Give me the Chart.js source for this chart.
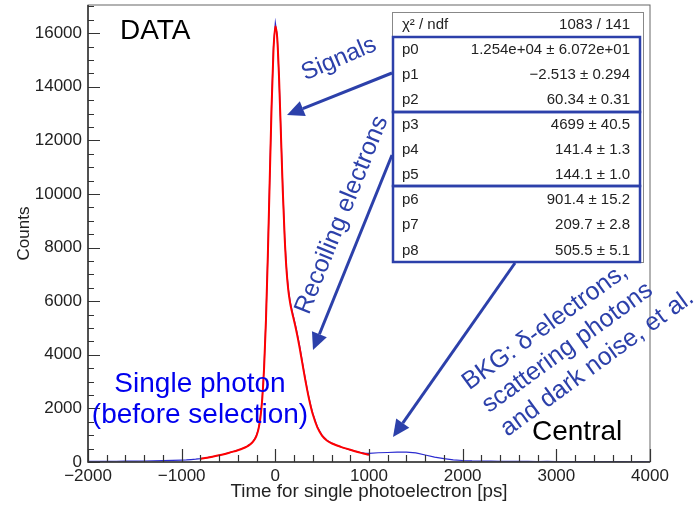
<!DOCTYPE html>
<html>
<head>
<meta charset="utf-8">
<script src="https://cdn.jsdelivr.net/npm/chart.js@4/dist/chart.umd.min.js"></script>
<style>
  html, body { margin: 0; padding: 0; background: #fff; }
  #wrap { width: 697px; height: 505px; position: relative; }
</style>
</head>
<body>
<div id="wrap"><canvas id="timeChart"></canvas></div>
<script>
// histogram: time bins [ps] and counts
const histTime = [
  -2000, -1900, -1800, -1700, -1600, -1500, -1400, -1300, -1200, -1100, -1000,
  -950, -900, -850, -800, -750, -700, -650, -600, -550, -500, -450, -400, -350, -300,
  -280, -260, -240, -220, -200, -180, -160, -140, -120, -100, -80, -60, -40, -20,
  0, 20, 40, 60, 80, 100, 120, 140, 160, 180, 200, 220, 240, 260, 280, 300,
  320, 340, 360, 380, 400,
  450, 500, 550, 600, 650, 700, 750, 800, 850, 900, 950, 1000,
  1100, 1200, 1300, 1400, 1500, 1600, 1700, 1800, 1900, 2000,
  2100, 2200, 2300, 2400, 2500, 2600, 2700, 2800, 2900, 3000,
  3100, 3200, 3300, 3400, 3500, 3600, 3700, 3800, 3900, 4000
];
const histCounts = [
  20, 25, 22, 28, 30, 34, 38, 45, 50, 58, 70,
  78, 90, 105, 125, 150, 182, 215, 252, 290, 340, 392, 445, 505, 590,
  640, 690, 760, 860, 1010, 1240, 1660, 2380, 3560, 5340, 7760, 10580, 13350, 15480,
  16380, 15900, 14300, 12250, 10150, 8380, 7180, 6420, 5960, 5640, 5330, 5020, 4680, 4320, 3910, 3490,
  3100, 2720, 2380, 2080, 1810,
  1300, 990, 815, 705, 630, 560, 505, 455, 405, 360, 330, 320,
  345, 355, 365, 370, 340, 260, 180, 125, 80, 55,
  40, 35, 30, 25, 28, 20, 22, 18, 20, 15,
  18, 14, 16, 12, 15, 12, 14, 10, 12, 10
];

// fit curve (red), -800 .. 1000 ps
const fitTime = [
  -800, -750, -700, -650, -600, -550, -500, -450, -400, -350, -300,
  -280, -260, -240, -220, -200, -180, -160, -140, -120, -100, -80, -60, -40, -20,
  0, 20, 40, 60, 80, 100, 120, 140, 160, 180, 200, 220, 240, 260, 280, 300,
  320, 340, 360, 380, 400,
  450, 500, 550, 600, 650, 700, 750, 800, 850, 900, 950, 1000
];
const fitCounts = [
  123, 149, 179, 212, 250, 291, 337, 386, 440, 502, 585,
  629, 684, 754, 849, 992, 1226, 1633, 2343, 3519, 5300, 7704, 10515, 13264, 15346,
  16260, 15833, 14306, 12202, 10087, 8352, 7132, 6363, 5891, 5563, 5272, 4965, 4622, 4247, 3852, 3451,
  3060, 2690, 2349, 2045, 1779,
  1280, 977, 803, 699, 626, 566, 510, 456, 404, 355, 308, 266
];

const xTicks = [-2000, -1000, 0, 1000, 2000, 3000, 4000];
const yTicks = [0, 2000, 4000, 6000, 8000, 10000, 12000, 14000, 16000];

// fit box
const statHeader = ['\u03c7\u00b2 / ndf', '1083 / 141'];
const paramNames = ['p0', 'p1', 'p2', 'p3', 'p4', 'p5', 'p6', 'p7', 'p8'];
const paramValues = [
  '1.254e+04 \u00b1 6.072e+01',
  '\u22122.513 \u00b1 0.294',
  '60.34 \u00b1 0.31',
  '4699 \u00b1 40.5',
  '141.4 \u00b1 1.3',
  '144.1 \u00b1 1.0',
  '901.4 \u00b1 15.2',
  '209.7 \u00b1 2.8',
  '505.5 \u00b1 5.1'
];

const FONT = '"Liberation Sans", Arial, Helvetica, sans-serif';
const annBlue = '#2c40aa';
Chart.defaults.font.family = FONT;

// ROOT style: frame + ticks inside the frame
const frameTicks = {
  id: 'frameTicks',
  afterDatasetsDraw(chart) {
    const c = chart.ctx, a = chart.chartArea;
    const xs = chart.scales.x, ys = chart.scales.y;
    c.save();
    c.strokeStyle = '#666';
    c.lineWidth = 1;
    c.strokeRect(a.left, a.top, a.right - a.left, a.bottom - a.top);
    c.strokeStyle = '#333';
    c.lineWidth = 1.2;
    c.beginPath();
    for (let v = -2000; v <= 4000; v += 200) {
      const px = Math.round(xs.getPixelForValue(v)) + 0.5;
      const len = (v % 1000 === 0) ? 13 : 7;
      c.moveTo(px, a.bottom); c.lineTo(px, a.bottom - len);
    }
    for (let v = 0; v <= 17000; v += 500) {
      const py = Math.round(ys.getPixelForValue(v)) + 0.5;
      const len = (v % 2000 === 0) ? 12 : 6;
      c.moveTo(a.left, py); c.lineTo(a.left + len, py);
    }
    c.stroke();
    c.lineWidth = 1.5;
    c.beginPath();
    c.moveTo(a.left, a.top); c.lineTo(a.left, a.bottom); c.lineTo(a.right, a.bottom);
    c.stroke();
    c.restore();
  }
};

function arrow(c, x1, y1, x2, y2) {
  const ang = Math.atan2(y2 - y1, x2 - x1);
  const hl = 17, hw = 8;
  const bx = x2 - hl * Math.cos(ang), by = y2 - hl * Math.sin(ang);
  c.beginPath();
  c.moveTo(x1, y1); c.lineTo(bx, by);
  c.stroke();
  c.beginPath();
  c.moveTo(x2, y2);
  c.lineTo(bx + hw * Math.sin(ang), by - hw * Math.cos(ang));
  c.lineTo(bx - hw * Math.sin(ang), by + hw * Math.cos(ang));
  c.closePath();
  c.fill();
}

function rotText(c, lines, x, y, deg, offsets) {
  c.save();
  c.translate(x, y);
  c.rotate(deg * Math.PI / 180);
  lines.forEach((t, i) => {
    const o = offsets ? offsets[i] : [0, 0];
    c.fillText(t, o[0], o[1]);
  });
  c.restore();
}

const annotations = {
  id: 'annotations',
  afterDraw(chart) {
    const c = chart.ctx;
    c.save();
    // fit stats box
    c.fillStyle = '#fff';
    c.fillRect(392, 12, 251, 250);
    c.strokeStyle = '#888';
    c.lineWidth = 1;
    c.strokeRect(392.5, 12.5, 251, 250);
    c.fillStyle = '#222';
    c.font = '15px ' + FONT;
    c.textBaseline = 'middle';
    const rowY = i => 24.5 + 25.1 * i;
    c.textAlign = 'left';
    c.fillText(statHeader[0], 402, rowY(0));
    c.textAlign = 'right';
    c.fillText(statHeader[1], 630, rowY(0));
    paramNames.forEach((n, i) => {
      c.textAlign = 'left';
      c.fillText(n, 402, rowY(i + 1));
      c.textAlign = 'right';
      c.fillText(paramValues[i], 630, rowY(i + 1));
    });
    // blue boxes around parameter groups
    c.strokeStyle = annBlue;
    c.lineWidth = 2.5;
    c.strokeRect(393, 37, 247, 75);
    c.strokeRect(393, 112, 247, 74);
    c.strokeRect(393, 186, 247, 76);

    // arrows
    c.fillStyle = annBlue;
    c.lineWidth = 3;
    arrow(c, 392, 73, 287, 115);
    arrow(c, 392, 155, 313, 350);
    arrow(c, 515, 263, 393, 437);

    // rotated labels
    c.font = '24px ' + FONT;
    c.textAlign = 'center';
    c.textBaseline = 'middle';
    rotText(c, ['Signals'], 339, 59, -23);
    c.font = '25px ' + FONT;
    rotText(c, ['Recoiling electrons'], 342, 215, -68);
    rotText(c, ['BKG: \u03b4-electrons,', 'scattering photons', 'and dark noise, et al.'],
      545, 327, -36, [[0, 0], [6, 30], [21, 60]]);

    // plain labels
    c.fillStyle = '#0000ee';
    c.font = '28px ' + FONT;
    c.textBaseline = 'alphabetic';
    c.fillText('Single photon', 200, 392);
    c.fillText('(before selection)', 200, 423);
    c.fillStyle = '#000';
    c.textAlign = 'left';
    c.fillText('DATA', 120, 39);
    c.fillText('Central', 532, 440);
    c.restore();
  }
};

const ctx = document.getElementById('timeChart').getContext('2d');
const timeChart = new Chart(ctx, {
  type: 'line',
  data: {
    datasets: [
      {
        label: 'fit',
        data: fitTime.map((t, i) => ({ x: t, y: fitCounts[i] })),
        borderColor: '#ff0000',
        borderWidth: 2,
        pointRadius: 0,
        cubicInterpolationMode: 'monotone',
        order: 1
      },
      {
        label: 'data',
        data: histTime.map((t, i) => ({ x: t, y: histCounts[i] })),
        borderColor: '#2b2bd0',
        borderWidth: 1.2,
        pointRadius: 0,
        tension: 0,
        order: 2
      }
    ]
  },
  options: {
    responsive: true,
    maintainAspectRatio: false,
    animation: false,
    layout: { padding: { top: 5, right: 47, left: 0, bottom: 0 } },
    plugins: { legend: { display: false }, tooltip: { enabled: false } },
    scales: {
      x: {
        type: 'linear',
        min: -2000,
        max: 4000,
        afterBuildTicks: s => { s.ticks = xTicks.map(v => ({ value: v })); },
        afterFit: s => { s.height = 43; s.paddingLeft = 0; s.paddingRight = 0; },
        grid: { display: false, drawTicks: false },
        border: { display: false },
        ticks: {
          padding: 4,
          color: '#222',
          font: { size: 17 },
          maxRotation: 0,
          callback: v => String(v).replace('-', '\u2212')
        },
        title: {
          display: true,
          text: 'Time for single photoelectron [ps]',
          color: '#222',
          font: { size: 18.8 },
          padding: { top: 0, bottom: 2 }
        }
      },
      y: {
        type: 'linear',
        min: 0,
        max: 17050,
        afterBuildTicks: s => { s.ticks = yTicks.map(v => ({ value: v })); },
        afterFit: s => { s.width = 88; s.paddingTop = 0; s.paddingBottom = 0; },
        grid: { display: false, drawTicks: false },
        border: { display: false },
        ticks: {
          padding: 6,
          color: '#222',
          font: { size: 17 },
          callback: v => String(v)
        },
        title: {
          display: true,
          text: 'Counts',
          color: '#222',
          font: { size: 17 },
          padding: { top: 14, bottom: 0 }
        }
      }
    }
  },
  plugins: [frameTicks, annotations]
});
</script>
</body>
</html>
